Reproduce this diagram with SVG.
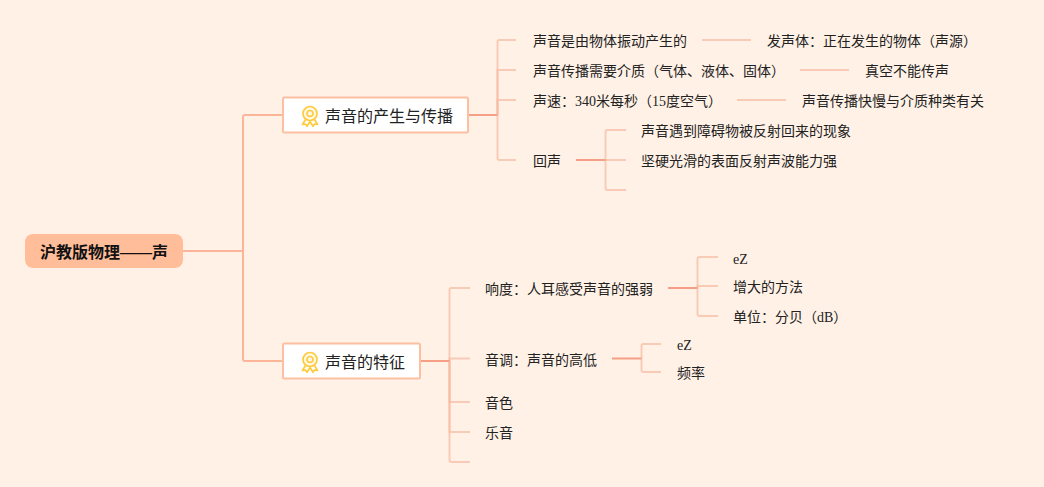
<svg xmlns="http://www.w3.org/2000/svg" width="1044" height="487" viewBox="0 0 1044 487">
<style>
text{font-family:"Liberation Serif","Noto Sans CJK SC",sans-serif;fill:#222;font-size:14px}
.t{font-size:16px}
.r{font-size:16px;font-weight:700;fill:#111}
.c1{fill:none;stroke:#FDB59A;stroke-width:2}
.c2{fill:none;stroke:#F5A086;stroke-width:2}
.c3{fill:none;stroke:#F6BBA4;stroke-width:2;stroke-opacity:.72}
.box{fill:#fff;stroke:#FCBFA2;stroke-width:2}
</style>
<defs>
<g id="medal" fill="none" stroke="#FFCB3D" stroke-width="1.7">
<path d="M-4.500 4.500L-7.500 9.500L-4.500 9L-3 11.200L0 6.500L3 11.200L4.500 9L7.500 9.500L4.500 4.500" stroke-linejoin="round"/>
<circle cx="0" cy="-1.500" r="7" fill="#FFF8E6"/>
<circle cx="0" cy="-1.500" r="3"/>
</g>
</defs>
<rect width="1044" height="487" fill="#FFF1E6"/>
<g id="connectors">
<path class="c1" d="M183 251H243"/>
<path class="c1" d="M243 251V117Q243 115 245 115H283"/>
<path class="c1" d="M243 251V359Q243 361 245 361H283"/>
<path class="c3" d="M497.500 115V42Q497.500 40 499.500 40H516"/>
<path class="c3" d="M497.500 115V70H516"/>
<path class="c3" d="M497.500 115V100H516"/>
<path class="c3" d="M497.500 115V158Q497.500 160 499.500 160H516"/>
<path class="c2" d="M469 115H497.500"/>
<path class="c3" d="M702 40H751"/>
<path class="c3" d="M800 70H849"/>
<path class="c3" d="M737 100H786"/>
<path class="c3" d="M605.500 160V132Q605.500 130 607.500 130H626"/>
<path class="c3" d="M605.500 160H626"/>
<path class="c3" d="M605.500 160V188Q605.500 190 607.500 190H626"/>
<path class="c2" d="M576 160H605.500"/>
<path class="c3" d="M449.500 361V290Q449.500 288 451.500 288H470"/>
<path class="c3" d="M449.500 361V358.500H470"/>
<path class="c3" d="M449.500 361V402H470"/>
<path class="c3" d="M449.500 361V432H470"/>
<path class="c3" d="M449.500 361V460Q449.500 462 451.500 462H470"/>
<path class="c2" d="M420 361H449.500"/>
<path class="c3" d="M697.500 288V259Q697.500 257 699.500 257H718"/>
<path class="c3" d="M697.500 288V286H718"/>
<path class="c3" d="M697.500 288V314Q697.500 316 699.500 316H718"/>
<path class="c2" d="M668 288H697.500"/>
<path class="c3" d="M641.500 358.500V346Q641.500 344 643.500 344H661"/>
<path class="c3" d="M641.500 358.500V370Q641.500 372 643.500 372H661"/>
<path class="c2" d="M612 358.500H641.500"/>
</g>
<g id="root"><rect x="25" y="234" width="158" height="34" rx="8" fill="#FFBD99"/><text class="r" x="40" y="258">沪教版物理——声</text></g>
<g id="n1"><rect class="box" x="283" y="97.500" width="185" height="35" rx="1.500"/><use href="#medal" x="310" y="115"/><text class="t" x="325" y="122">声音的产生与传播</text></g>
<g id="n2"><rect class="box" x="283" y="343.500" width="137" height="35" rx="1.500"/><use href="#medal" x="310" y="361"/><text class="t" x="325" y="368">声音的特征</text></g>
<g id="a1"><text x="533" y="46">声音是由物体振动产生的</text></g>
<g id="a1a"><text x="767" y="46">发声体：正在发生的物体（声源）</text></g>
<g id="a2"><text x="533" y="76">声音传播需要介质（气体、液体、固体）</text></g>
<g id="a2a"><text x="865" y="76">真空不能传声</text></g>
<g id="a3"><text x="533" y="106">声速：340米每秒（15度空气）</text></g>
<g id="a3a"><text x="802" y="106">声音传播快慢与介质种类有关</text></g>
<g id="a4"><text x="533" y="166">回声</text></g>
<g id="a4a"><text x="641" y="136">声音遇到障碍物被反射回来的现象</text></g>
<g id="a4b"><text x="641" y="166">坚硬光滑的表面反射声波能力强</text></g>
<g id="b1"><text x="485" y="294">响度：人耳感受声音的强弱</text></g>
<g id="b1a"><text x="733" y="264">eZ</text></g>
<g id="b1b"><text x="733" y="292">增大的方法</text></g>
<g id="b1c"><text x="733" y="322">单位：分贝（dB）</text></g>
<g id="b2"><text x="485" y="365">音调：声音的高低</text></g>
<g id="b2a"><text x="677" y="350">eZ</text></g>
<g id="b2b"><text x="677" y="378">频率</text></g>
<g id="b3"><text x="485" y="408">音色</text></g>
<g id="b4"><text x="485" y="438">乐音</text></g>
</svg>
